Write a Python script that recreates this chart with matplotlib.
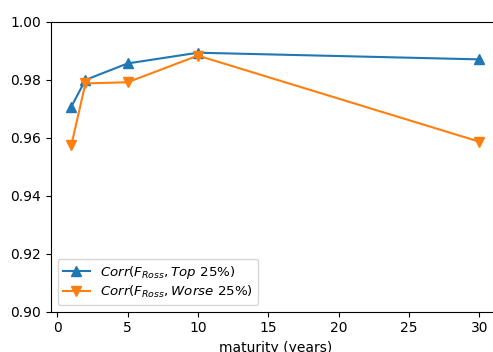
import matplotlib
matplotlib.use('Agg')
import matplotlib.pyplot as plt
import numpy as np

# vencimientos en años y correlaciones de cada grupo
maturity = [1, 2, 5, 10, 30]
corr_top = [0.9708, 0.9800, 0.9857, 0.9894, 0.9871]
corr_worse = [0.9575, 0.9788, 0.9792, 0.9884, 0.9587]

fig = plt.figure(figsize=(4.93, 3.52), dpi=100)
ax = fig.add_axes([0.1034, 0.1145, 0.91, 0.823])
ax.spines['right'].set_visible(False)

ax.plot(maturity, corr_top, marker='^', markersize=7,
        label=r'$Corr(F_{Ross}, Top\ 25\%)$')
ax.plot(maturity, corr_worse, marker='v', markersize=7,
        label=r'$Corr(F_{Ross}, Worse\ 25\%)$')

ax.set_xlim(-0.45, 31.45)
ax.set_ylim(0.90, 1.00)
ax.set_yticks(np.arange(0.90, 1.001, 0.02))
ax.set_xlabel('maturity (years)')
ax.legend(loc='lower left', labelspacing=0.2, borderpad=0.4, fontsize=9.6)

fig.savefig('out.png', dpi=100)
